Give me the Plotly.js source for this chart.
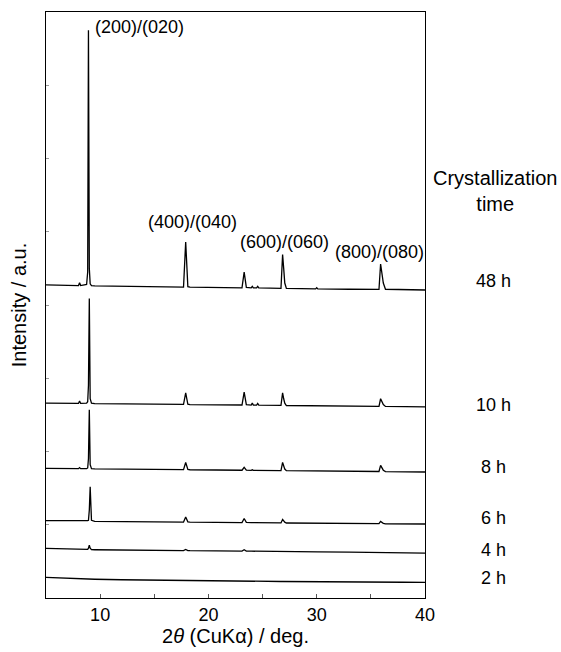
<!DOCTYPE html>
<html><head><meta charset="utf-8">
<script src="https://cdn.plot.ly/plotly-3.0.1.min.js"></script>
<style>html,body{margin:0;padding:0;background:#fff}</style>
</head><body><div id="chart" style="width:561px;height:652px"></div>
<script>
// 2θ sample positions (deg.)
const twoTheta = [5, 6.5, 8.0, 8.1, 8.2, 8.75, 8.85, 8.92, 9.0, 9.08, 9.2, 9.5, 12, 15, 17.7, 17.9, 18.1, 18.3, 21, 23.1, 23.3, 23.5, 23.95, 24.05, 24.15, 24.45, 24.55, 24.65, 26.7, 26.85, 26.95, 27.05, 27.2, 29.9, 30.0, 30.1, 33, 35.75, 35.9, 36.05, 36.15, 36.35, 38, 40];

// stacked intensities (a.u., offsets included)
const y48h = [4.275, 4.27, 4.265, 4.305, 4.265, 4.28, 4.45, 7.75, 4.5, 4.29, 4.265, 4.26, 4.255, 4.25, 4.245, 4.86, 4.25, 4.245, 4.24, 4.235, 4.45, 4.24, 4.235, 4.255, 4.235, 4.233, 4.255, 4.233, 4.228, 4.69, 4.5, 4.3, 4.226, 4.22, 4.235, 4.22, 4.215, 4.212, 4.56, 4.40, 4.30, 4.215, 4.21, 4.205];
const y10h = [2.66, 2.658, 2.656, 2.69, 2.656, 2.66, 2.68, 2.9, 4.09, 2.72, 2.66, 2.653, 2.65, 2.645, 2.642, 2.80, 2.645, 2.641, 2.637, 2.635, 2.81, 2.64, 2.633, 2.66, 2.633, 2.632, 2.655, 2.632, 2.629, 2.80, 2.72, 2.66, 2.628, 2.624, 2.632, 2.624, 2.62, 2.617, 2.72, 2.68, 2.64, 2.616, 2.613, 2.61];
const y8h = [1.77, 1.768, 1.765, 1.78, 1.765, 1.765, 1.775, 1.9, 2.57, 1.82, 1.765, 1.763, 1.76, 1.755, 1.752, 1.85, 1.755, 1.751, 1.747, 1.744, 1.785, 1.746, 1.743, 1.75, 1.743, 1.742, 1.742, 1.742, 1.739, 1.85, 1.80, 1.76, 1.738, 1.734, 1.734, 1.734, 1.73, 1.727, 1.81, 1.77, 1.745, 1.726, 1.723, 1.72];
const y6h = [1.055, 1.053, 1.05, 1.06, 1.05, 1.05, 1.055, 1.06, 1.2, 1.52, 1.06, 1.047, 1.044, 1.04, 1.037, 1.105, 1.04, 1.036, 1.033, 1.03, 1.085, 1.032, 1.029, 1.029, 1.029, 1.028, 1.028, 1.028, 1.025, 1.073, 1.05, 1.035, 1.024, 1.02, 1.02, 1.02, 1.017, 1.014, 1.045, 1.03, 1.02, 1.013, 1.012, 1.01];
const y4h = [0.678, 0.672, 0.665, 0.665, 0.664, 0.662, 0.665, 0.68, 0.72, 0.68, 0.66, 0.659, 0.655, 0.651, 0.648, 0.662, 0.648, 0.647, 0.643, 0.64, 0.658, 0.64, 0.639, 0.639, 0.639, 0.638, 0.638, 0.638, 0.636, 0.64, 0.636, 0.635, 0.635, 0.631, 0.631, 0.631, 0.626, 0.621, 0.621, 0.621, 0.62, 0.62, 0.616, 0.612];
const y2h = [0.282, 0.272, 0.264, 0.263, 0.263, 0.26, 0.259, 0.259, 0.258, 0.258, 0.257, 0.256, 0.249, 0.242, 0.237, 0.237, 0.236, 0.236, 0.232, 0.229, 0.229, 0.228, 0.228, 0.228, 0.228, 0.227, 0.227, 0.227, 0.225, 0.225, 0.225, 0.225, 0.224, 0.222, 0.222, 0.222, 0.219, 0.217, 0.217, 0.217, 0.217, 0.216, 0.215, 0.214];

const seriesNames = ['48 h', '10 h', '8 h', '6 h', '4 h', '2 h'];
const seriesValues = [y48h, y10h, y8h, y6h, y4h, y2h];
const timeLabelY = [4.33, 2.63, 1.79, 1.09, 0.66, 0.27];

const peakLabels = ['(200)/(020)', '(400)/(040)', '(600)/(060)', '(800)/(080)'];
const peakLabelX = [9.3, 14.2, 22.7, 31.5];
const peakLabelY = [7.8, 5.13, 4.86, 4.72];

const xTickVals = [10, 20, 30, 40];
const xTickText = ['10', '20', '30', '40'];

const FONT = 'Liberation Sans, Arial, Helvetica, sans-serif';

const traces = seriesValues.map((v, i) => ({
  x: twoTheta, y: v, name: seriesNames[i], type: 'scatter', mode: 'lines',
  line: {color: '#000', width: 1.3}, hoverinfo: 'skip'
}));

const annotations = [];
peakLabels.forEach((t, i) => annotations.push({
  x: peakLabelX[i], y: peakLabelY[i], xref: 'x', yref: 'y', text: t,
  showarrow: false, xanchor: 'left', yanchor: 'middle',
  font: {family: FONT, size: 18, color: '#000'}
}));
seriesNames.forEach((t, i) => annotations.push({
  x: 1.182, y: timeLabelY[i], xref: 'paper', yref: 'y', text: t,
  showarrow: false, xanchor: 'center', yanchor: 'middle',
  font: {family: FONT, size: 18, color: '#000'}
}));
annotations.push({
  x: 1.185, y: 5.55, xref: 'paper', yref: 'y', text: 'Crystallization<br>time',
  showarrow: false, xanchor: 'center', yanchor: 'middle', align: 'center',
  font: {family: FONT, size: 20, color: '#000'}
});

const layout = {
  width: 561, height: 652,
  margin: {l: 46, r: 136, t: 12, b: 54, pad: 0},
  paper_bgcolor: '#fff', plot_bgcolor: '#fff',
  showlegend: false,
  font: {family: FONT, color: '#000'},
  xaxis: {
    range: [5, 40], showgrid: false, zeroline: false,
    showline: true, mirror: true, linecolor: '#000', linewidth: 1.3,
    ticks: 'inside', ticklen: 4, tickcolor: '#555', tickwidth: 1,
    tickmode: 'array', tickvals: xTickVals, ticktext: xTickText,
    minor: {tickmode: 'array', tickvals: [15, 25, 35], ticks: 'inside', ticklen: 4, tickcolor: '#555'},
    tickfont: {family: FONT, size: 18, color: '#000'},
    title: {text: '2<i>θ</i> (CuKα) / deg.', font: {family: FONT, size: 20, color: '#000'}, standoff: 5}
  },
  yaxis: {
    range: [0, 8], showgrid: false, zeroline: false,
    showline: true, mirror: true, linecolor: '#000', linewidth: 1.3,
    ticks: 'inside', ticklen: 3, tickcolor: '#999', tickwidth: 1,
    dtick: 1, tick0: 0, showticklabels: false,
    title: {text: 'Intensity / a.u.', font: {family: FONT, size: 20, color: '#000'}, standoff: 12}
  },
  annotations: annotations
};

Plotly.newPlot('chart', traces, layout, {displayModeBar: false, staticPlot: true});
</script>
</body></html>
